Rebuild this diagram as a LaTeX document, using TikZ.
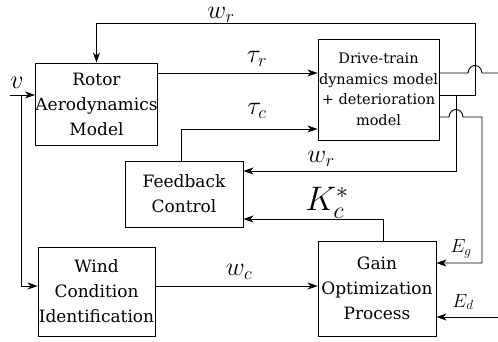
\RequirePackage{fix-cm}
\documentclass[tikz,border=0pt]{standalone}
\usepackage{fontspec}
\setmainfont{DejaVu Serif}
\usetikzlibrary{arrows.meta}
\begin{document}
\begin{tikzpicture}[x=1pt,y=-1pt,
  blk/.style={draw, line width=0.9pt, align=center, inner sep=0pt, font=\fontsize{17}{25}\selectfont},
  ln/.style={line width=0.9pt},
  arr/.style={ln, -{Stealth[length=10pt,width=7pt,inset=3pt]}},
  lbl/.style={inner sep=0pt, font=\fontsize{26}{28}\selectfont},
  slbl/.style={inner sep=0pt, font=\fontsize{19}{22}\selectfont}]
\useasboundingbox (0,0) rectangle (498,342);
\node[blk, minimum width=117pt, minimum height=82pt] (rotor) at (96.5,104) {Rotor\\Aerodynamics\\Model};
\node[blk, minimum width=121pt, minimum height=101pt, font=\fontsize{14.5}{20.5}\selectfont] (drive) at (378.5,89.5) {Drive-train\\dynamics model\\+ deterioration\\model};
\node[blk, minimum width=118pt, minimum height=66pt] (fb) at (184,194) {Feedback\\Control};
\node[blk, minimum width=117pt, minimum height=89pt] (wind) at (96.5,291.5) {Wind\\Condition\\Identification};
\node[blk, minimum width=118pt, minimum height=95pt] (gain) at (377,288.5) {Gain\\Optimization\\Process};
% coordinates
\coordinate (wrR) at (475,95);
\coordinate (wrT) at (475,23);
\coordinate (o1) at (498,73);
\coordinate (wr2) at (456,95);
\coordinate (wr2b) at (456,171);
\coordinate (o2) at (482,117);
\coordinate (o2b) at (482,263);
\coordinate (ed) at (498,317);
\coordinate (vin) at (10,95);
\coordinate (vj) at (21,95);
% wr feedback to rotor
\draw[arr] (drive.east |- wrR) -- (wrR) -- (wrT) -| (rotor.north);
% tau_r
\draw[arr] (rotor.east |- 0,73) -- (drive.west |- 0,73);
% output 1 with hop
\draw[ln] (drive.east |- o1) -- (468,73) .. controls (469,63) and (481,63) .. (482,73) -- (o1);
% tau_c
\draw[arr] ([xshift=-3pt]fb.north) |- (drive.west |- 0,129);
% wr to feedback
\draw[arr] (wr2) -- (wr2b) -- (fb.east |- wr2b);
% output 2 with hop
\draw[arr] (drive.east |- o2) -- (449,117) .. controls (450,107) and (462,107) .. (463,117) -- (o2) -- (o2b) -- (gain.east |- o2b);
% Ed
\draw[arr] (ed) -- (gain.east |- ed);
% Kc
\draw[arr] ([xshift=6pt]gain.north) |- (fb.east |- 0,219);
% wc
\draw[arr] (wind.east |- 0,286) -- (gain.west |- 0,286);
% v
\draw[arr] (vin) -- (rotor.west |- vin);
\draw[arr] (vj) |- (wind.west |- 0,286);
% labels
\node[lbl] (lwr) at (221,15) {$w_r$};
\node[lbl] (ltr) at (257,59) {$\tau_r$};
\node[lbl] (ltc) at (257,111) {$\tau_c$};
\node[lbl] (lwr2) at (321,159) {$w_r$};
\node[inner sep=0pt, font=\fontsize{34}{36}\selectfont] (lk) at (327,203) {$K_c^*$};
\node[slbl] (leg) at (461,249) {$E_g$};
\node[slbl] (led) at (463,302) {$E_d$};
\node[lbl] (lwc) at (239,272) {$w_c$};
\node[lbl] (lv) at (17,83) {$v$};
\end{tikzpicture}
\end{document}
